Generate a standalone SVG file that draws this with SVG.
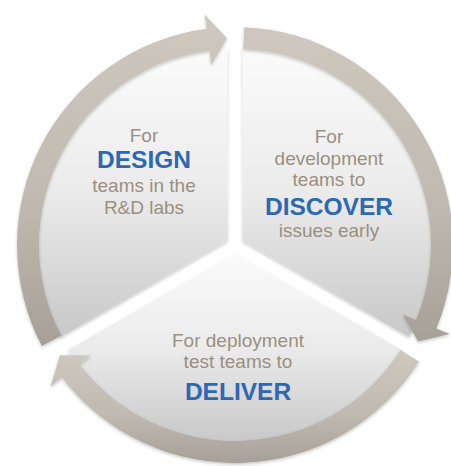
<svg xmlns="http://www.w3.org/2000/svg" width="451" height="466" viewBox="0 0 451 466">
  <defs>
    <linearGradient id="wedgeGrad" x1="0" y1="0" x2="0" y2="1">
      <stop offset="0" stop-color="#fbfbfb"/>
      <stop offset="0.5" stop-color="#ebebeb"/>
      <stop offset="1" stop-color="#c8c8c8"/>
    </linearGradient>
    <linearGradient id="ringGrad" x1="0" y1="0" x2="0" y2="1">
      <stop offset="0" stop-color="#cec8be"/>
      <stop offset="0.55" stop-color="#c0bab0"/>
      <stop offset="1" stop-color="#a6a098"/>
    </linearGradient>
    <filter id="shadow" x="-10%" y="-10%" width="120%" height="120%">
      <feDropShadow dx="0" dy="1.5" stdDeviation="1.8" flood-color="#000" flood-opacity="0.22"/>
    </filter>
  </defs>
  <style>
    .wedge { fill: url(#wedgeGrad); filter: url(#shadow); }
    .arc { fill: url(#ringGrad); filter: url(#shadow); }
    .t { font-family: "Liberation Sans", Arial, sans-serif; font-size: 19px; fill: #9a8f80; text-anchor: middle; }
    .b { font-family: "Liberation Sans", Arial, sans-serif; font-size: 24.5px; font-weight: bold; fill: #2c68b4; text-anchor: middle; }
  </style>
  <rect width="451" height="466" fill="#ffffff"/>

  <g id="node-design">
    <path class="wedge" d="M227.5 240.67 L60.77 336.93 A197 197 0 0 1 227.51 48.14 Z"/>
    <text class="t" x="144" y="142">For</text>
    <text class="b" x="144" y="168">DESIGN</text>
    <text class="t" x="144" y="192">teams in the</text>
    <text class="t" x="144" y="214">R&amp;D labs</text>
  </g>

  <g id="node-discover">
    <path class="wedge" d="M242.5 240.67 L242.49 48.14 A197 197 0 0 1 409.23 336.93 Z"/>
    <text class="t" x="329" y="143">For</text>
    <text class="t" x="329" y="165">development</text>
    <text class="t" x="329" y="186">teams to</text>
    <text class="b" x="329" y="215">DISCOVER</text>
    <text class="t" x="329" y="237">issues early</text>
  </g>

  <g id="node-deliver">
    <path class="wedge" d="M235 253.66 L401.74 349.91 A197 197 0 0 1 68.26 349.91 Z"/>
    <text class="t" x="238" y="347">For deployment</text>
    <text class="t" x="238" y="368">test teams to</text>
    <text class="b" x="238" y="400">DELIVER</text>
  </g>

  <g id="connectors">
    <path id="arc-design-discover" class="arc" d="M41.81 346.00 A218 218 0 0 1 206.54 28.87 L204.65 14.49 L227.05 38.15 L211.31 65.05 L209.42 50.68 A196 196 0 0 0 61.30 335.81 Z"/>
    <path id="arc-discover-deliver" class="arc" d="M244.13 27.19 A218 218 0 0 1 436.41 328.43 L449.80 333.97 L418.11 341.54 L402.68 314.46 L416.08 320.01 A196 196 0 0 0 243.21 49.17 Z"/>
    <path id="arc-deliver-design" class="arc" d="M419.06 361.81 A218 218 0 0 1 62.05 377.71 L50.55 386.54 L59.84 355.31 L91.01 355.49 L79.50 364.32 A196 196 0 0 0 400.49 350.02 Z"/>
  </g>
</svg>
